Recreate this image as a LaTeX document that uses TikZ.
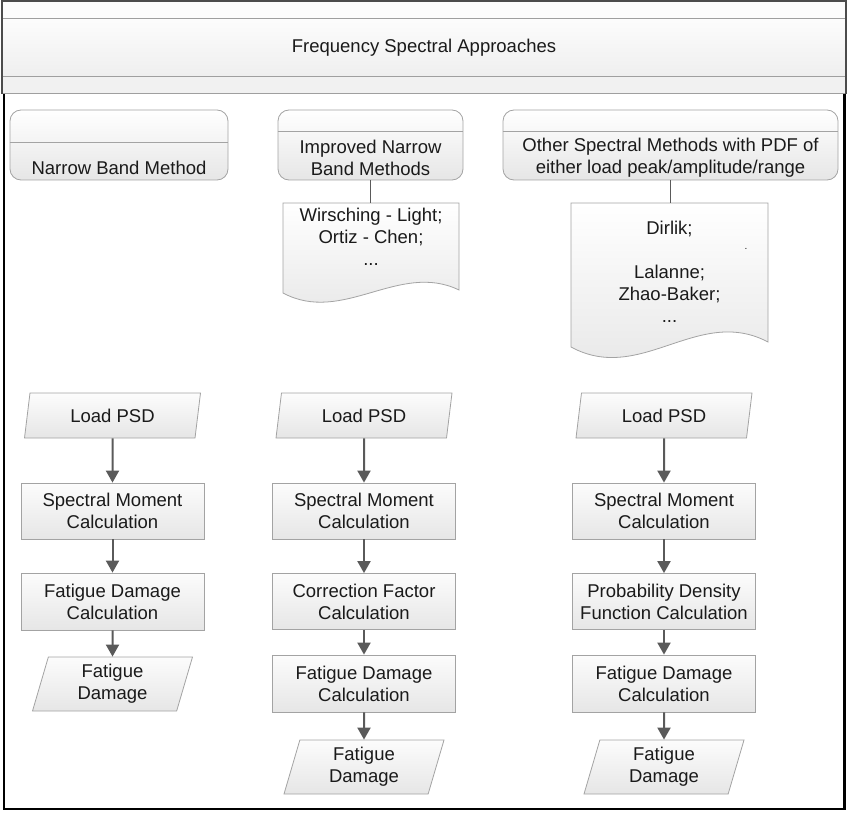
\documentclass[tikz,border=0pt]{standalone}
\usepackage{fontspec}
\setmainfont{Liberation Sans}
\usetikzlibrary{arrows.meta,shapes.geometric}
\definecolor{bordergray}{HTML}{A3A3A3}
\definecolor{arrowgray}{HTML}{5A5A5A}
\definecolor{filltop}{HTML}{FCFCFC}
\definecolor{fillbot}{HTML}{E6E6E6}
\definecolor{inkc}{HTML}{1A1A1A}
\begin{document}
\begin{tikzpicture}[x=1pt,y=-1pt,
  txt/.style={font=\fontsize{18.5pt}{22pt}\selectfont, align=center, text=inkc},
  procbox/.style={txt, rectangle, draw=bordergray, line width=0.8pt, top color=filltop, bottom color=fillbot, minimum width=183pt, inner sep=0pt},
  iobox/.style={txt, trapezium, trapezium left angle=68, trapezium right angle=112, trapezium stretches body, draw=bordergray, line width=0.8pt, top color=filltop, bottom color=fillbot, inner sep=0pt},
  flow/.style={draw=arrowgray, line width=2pt, -{Triangle[length=12pt,width=13pt]}},
  topbox/.style={rectangle, rounded corners=11pt, draw=bordergray, line width=0.8pt, top color=white, bottom color=fillbot, inner sep=0pt},
  divider/.style={draw=bordergray, line width=0.8pt},
  link/.style={draw=arrowgray, line width=1.5pt},
  docshape/.style={draw=bordergray, line width=0.8pt, top color=white, bottom color=fillbot},
]
\useasboundingbox (0,0) rectangle (848,813);

% header bands
\fill[white!98!gray] (2,1) rectangle (846,19);
\shade[top color=white!98!gray, bottom color=gray!13] (2,19) rectangle (846,77);
\fill[gray!11] (2,77) rectangle (846,94);
\draw[gray!75, line width=1pt] (2,19) -- (846,19) (2,77) -- (846,77) (2,94) -- (846,94);
\draw[black!70, line width=1.5pt] (2,94) -- (2,1) -- (846,1) -- (846,94);
\draw[black, line width=2.5pt] (4,94) -- (4,809) -- (844.5,809) -- (844.5,94);

\node[txt] (title) at (424,48) {Frequency Spectral Approaches};

% top method boxes
\node[topbox, minimum width=218pt, minimum height=70pt] (b1) at (119,145) {};
\draw[divider] ([yshift=-33pt]b1.north west) -- ([yshift=-33pt]b1.north east);
\node[txt] (t1) at (119,168) {Narrow Band Method};

\node[topbox, minimum width=185pt, minimum height=70pt] (b2) at (370.5,145) {};
\draw[divider] ([yshift=-22pt]b2.north west) -- ([yshift=-22pt]b2.north east);
\node[txt] (t2) at (370.5,157.5) {Improved Narrow\\Band Methods};

\node[topbox, minimum width=335pt, minimum height=70pt] (b3) at (670.5,145) {};
\draw[divider] ([yshift=-22pt]b3.north west) -- ([yshift=-22pt]b3.north east);
\node[txt] (t3) at (670.5,157.5) {Other Spectral Methods with PDF of\\either load peak/amplitude/range};

% document shapes
\coordinate (d2top) at (370.5,203);
\draw[docshape] (283,203) -- (459,203) -- (459,290) .. controls (399,261) and (343,325) .. (283,293) -- cycle;
\node[txt] (d2) at (371,237) {Wirsching - Light;\\Ortiz - Chen;\\...};
\draw[link] (b2.south) -- (d2top);

\coordinate (d3top) at (670.5,203);
\draw[docshape] (571,203) -- (768,203) -- (768,342) .. controls (698,305) and (641,385) .. (571,347) -- cycle;
\node[txt] (d3) at (669.5,272) {Dirlik;\\[22pt]Lalanne;\\Zhao-Baker;\\...};
\node[txt, font=\fontsize{10pt}{10pt}\selectfont] (dot) at (746,249) {.};
\draw[link] (b3.south) -- (d3top);

% column 1
\node[iobox, minimum width=176pt, minimum height=45pt] (l1) at (112.5,415.5) {Load PSD};
\node[procbox, minimum height=56pt] (s1) at (112.5,511) {Spectral Moment\\Calculation};
\node[procbox, minimum height=57pt] (f1) at (112.5,601.5) {Fatigue Damage\\Calculation};
\node[iobox, minimum width=160pt, minimum height=54pt] (o1) at (112.5,684) {Fatigue\\Damage};
\draw[flow] (l1) -- (s1);
\draw[flow] (s1) -- (f1);
\draw[flow] (f1) -- (o1);

% column 2
\node[iobox, minimum width=176pt, minimum height=45pt] (l2) at (364,415.5) {Load PSD};
\node[procbox, minimum height=56pt] (s2) at (364,511) {Spectral Moment\\Calculation};
\node[procbox, minimum height=56pt] (c2) at (364,601.5) {Correction Factor\\Calculation};
\node[procbox, minimum height=57pt] (f2) at (364,683.5) {Fatigue Damage\\Calculation};
\node[iobox, minimum width=160pt, minimum height=54pt] (o2) at (364,767) {Fatigue\\Damage};
\draw[flow] (l2) -- (s2);
\draw[flow] (s2) -- (c2);
\draw[flow] (c2) -- (f2);
\draw[flow] (f2) -- (o2);

% column 3
\node[iobox, minimum width=176pt, minimum height=45pt] (l3) at (664,415.5) {Load PSD};
\node[procbox, minimum height=56pt] (s3) at (664,511) {Spectral Moment\\Calculation};
\node[procbox, minimum height=56pt] (p3) at (664,601.5) {Probability Density\\Function Calculation};
\node[procbox, minimum height=57pt] (f3) at (664,683.5) {Fatigue Damage\\Calculation};
\node[iobox, minimum width=160pt, minimum height=54pt] (o3) at (664,767) {Fatigue\\Damage};
\draw[flow] (l3) -- (s3);
\draw[flow] (s3) -- (p3);
\draw[flow] (p3) -- (f3);
\draw[flow] (f3) -- (o3);
\end{tikzpicture}
\end{document}
